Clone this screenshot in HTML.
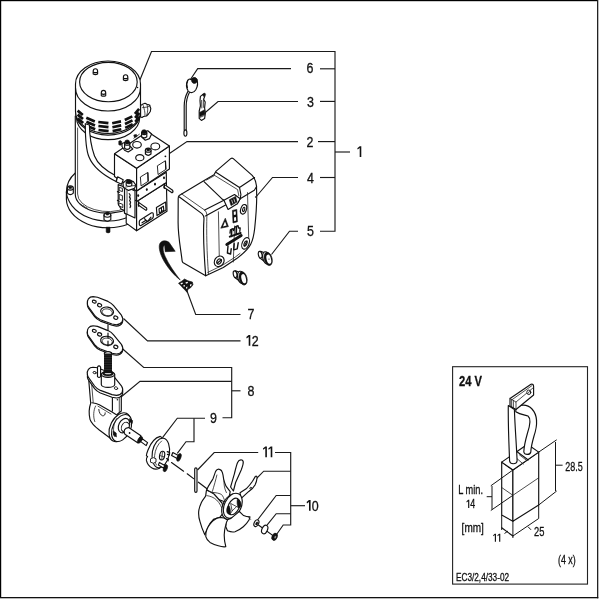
<!DOCTYPE html>
<html><head><meta charset="utf-8">
<style>
html,body{margin:0;padding:0;background:#fff;}
svg{display:block;will-change:transform;}
text{font-family:"Liberation Sans",sans-serif;fill:#111;stroke:#111;stroke-width:0.3;}
.l{fill:none;stroke:#1a1a1a;stroke-width:1.15;}
.t{fill:none;stroke:#151515;stroke-width:1;}
.p{fill:#fff;stroke:#111;stroke-width:1.15;stroke-linejoin:round;stroke-linecap:round;}
.pt{fill:#fff;stroke:#111;stroke-width:0.9;stroke-linejoin:round;stroke-linecap:round;}
.n{fill:none;stroke:#111;stroke-width:1.15;stroke-linejoin:round;stroke-linecap:round;}
.nt{fill:none;stroke:#222;stroke-width:0.8;stroke-linejoin:round;stroke-linecap:round;}
.k{fill:#111;stroke:#111;stroke-width:0.6;stroke-linejoin:round;}
</style></head>
<body>
<svg width="600" height="600" viewBox="0 0 600 600">
<rect x="0" y="0" width="600" height="600" fill="#fff"/>
<!-- FRAME -->
<g id="frame">
<rect x="0" y="0" width="598" height="1.2" fill="#000"/>
<rect x="0" y="0" width="1.2" height="598" fill="#000"/>
<rect x="597" y="0" width="1.3" height="598.3" fill="#222"/>
<rect x="0" y="597" width="598.3" height="1.3" fill="#111"/>
</g>
<!-- LEADERS -->
<g id="leaders" class="l">
<path d="M139.5 81 L151.5 51.5 H335 V231.2 H320"/>
<path d="M190.4 79.5 L197.7 68.6 H291"/><path d="M320 68.8 H335"/>
<path d="M205 112.8 L218 101.5 H298"/><path d="M320 101.4 H335"/>
<path d="M166.5 155.5 L187 141.6 H298"/><path d="M318 141.6 H335"/>
<path d="M335 152 H350"/>
<path d="M255.5 197.5 L272.5 177.5 H298"/><path d="M320 177.5 H335"/>
<path d="M271.5 254.5 L289.5 231.2 H298"/>
<path d="M187 291 L195.7 314.5 H240.5"/>
<path d="M123.5 318.5 L147.5 340.8 H240.5"/>
<path d="M122.5 348.8 L143.7 367.5 H231.7 V417.7 H222.5"/>
<path d="M118 399.5 L140 381.3 H231.7"/>
<path d="M231.7 390.8 H240.5"/>
<path d="M162.7 437.3 L177.3 418.2 H205"/>
<path d="M194 418.2 V441.7 H186 L177.3 453.3"/>
<path d="M197.5 470 L214.2 452.5 H258.2"/>
<path d="M275 452.5 H290.7 V525 H283.2 L276.2 535"/>
<path d="M255 480 L263.7 471.2 H290.7"/>
<path d="M257.5 520 L276.2 495.5 H290.7"/>
<path d="M266.2 526.2 L276.2 513.7 H290.7"/>
<path d="M290.7 505.7 H305"/>
</g>
<!-- LABELS -->
<defs><path id="one" d="M0.7 -8.7 L3.1 -10.7 H4.7 V0 H3.1 V-8.9 L1.1 -7.4 Z" fill="#111"/></defs>
<g id="labels" font-size="15" text-anchor="middle">
<text transform="translate(310 72.9) scale(0.83 1)">6</text>
<text transform="translate(310.5 106.9) scale(0.83 1)">3</text>
<text transform="translate(310 146.5) scale(0.83 1)">2</text>
<use href="#one" x="356.6" y="156.9"/>
<text transform="translate(310.5 182.5) scale(0.83 1)">4</text>
<text transform="translate(310.5 236.2) scale(0.83 1)">5</text>
<text transform="translate(251 319) scale(0.83 1)">7</text>
<use href="#one" x="245.6" y="345.8"/><text transform="translate(255.2 345.8) scale(0.83 1)">2</text>
<text transform="translate(251 395.8) scale(0.83 1)">8</text>
<text transform="translate(213.5 422.5) scale(0.83 1)">9</text>
<use href="#one" x="262.2" y="457.2"/><use href="#one" x="267.6" y="457.2"/>
<use href="#one" x="305.9" y="510.8"/><text transform="translate(315.3 510.8) scale(0.83 1)">0</text>
</g>
<!-- INSET -->
<g id="inset">
<rect x="452.6" y="366.7" width="134.9" height="217.4" fill="none" stroke="#222" stroke-width="1.1"/>
<text transform="translate(459 385.8) scale(0.80 1)" font-size="14" font-weight="bold">24 V</text>
<text transform="translate(458.2 493.5) scale(0.71 1)" font-size="13">L min.</text>
<use href="#one" transform="translate(465.9 508.1) scale(0.72 0.77)"/><text transform="translate(470.3 508.1) scale(0.74 1)" font-size="12">4</text>
<text transform="translate(461.6 532.2) scale(0.77 1)" font-size="13">[mm]</text>
<use href="#one" transform="translate(492.6 541.7) scale(0.72 0.75)"/><use href="#one" transform="translate(496.9 541.7) scale(0.72 0.75)"/>
<text transform="translate(534 536.4) scale(0.78 1)" font-size="12">25</text>
<text transform="translate(565.3 470.7) scale(0.72 1)" font-size="12.5">28.5</text>
<text transform="translate(558 563.7) scale(0.74 1)" font-size="12">(4 x)</text>
<text transform="translate(456 581) scale(0.785 1)" font-size="10.5">EC3/2,4/33-02</text>
</g>
<g id="brush">
<!-- block faces -->
<path class="p" d="M501.7 462.1 L512.9 470 L512.9 521.3 L501.7 515 Z"/>
<path class="p" d="M512.9 470 L538.7 452.1 L538.7 505 L512.9 521.3 Z"/>
<path class="p" d="M501.7 462.1 L527.5 444.2 L538.7 452.1 L512.9 470 Z"/>
<path class="n" stroke-width="1.8" d="M517.1 451.7 L528.3 460"/>
<path class="nt" d="M519.4 454.8 L526.5 460.3 M517.1 458.7 L523.2 464"/>
<!-- wear lines -->
<path class="nt" d="M501.7 487.5 L512.9 495.3 L538.7 477.8"/>
<!-- L min dim -->
<path class="t" d="M512.9 470 L490.8 485.8 M512.9 495.3 L490.8 510.5 M492 486 V509.5 M486.7 496.7 H492"/>
<!-- 28.5 dim -->
<path class="t" d="M538.7 452.1 L556.7 439.8 M538.7 505 L556.7 491 M555.5 442 V491 M555.5 465.2 H562.6"/>
<!-- bottom dims -->
<path class="t" d="M501.7 515 V530 M512.9 521.3 V538 M538.7 505 V518.5"/>
<path class="n" stroke-width="1.8" d="M501.7 527.8 L512.9 536"/>
<path class="t" d="M512.9 536 L538.7 518.5 M504.5 533.5 L508 531 M528 526.7 L531 529.8"/>
<!-- wire 2 (right, behind) -->
<path class="p" d="M515.8 409 C519 404 527 403.5 532 409 C537.5 415 538 424 534 436 C532 443 531 447 530.8 452 C530 455.2 524.5 455.2 523.8 452 C524 446 525.5 440 527.5 433 C530.5 424 530.5 418 528 416 C524 414.8 520 414.5 515.8 411.7 Z"/>
<!-- tag -->
<path class="p" d="M510 398.5 L531 384.3 Q533.6 383.6 533.6 386.5 L533.6 395 L516 409.5 L510 406 Z"/>
<path class="nt" d="M511.6 399.6 L511.6 407 M513.4 400.6 L513.4 408 M510 398.5 L516 402 L516 409.5 M516 402 L533.4 387.6 M512 399.7 L532 385.6"/>
<ellipse class="pt" cx="528.8" cy="392.3" rx="2" ry="2.3"/>
<path class="nt" d="M527.8 393.6 L529.8 391"/>
<!-- wire 1 (left, front) -->
<path class="p" d="M508.3 405.5 C508 425 509 445 509.6 461 C510.2 464.6 516.5 464.6 517.1 461 C516.5 445 515 428 514.4 409.5 Z"/>
</g>
<g id="motor">
<!-- flange -->
<path d="M75.3 173 C69.5 178 66.4 185 66.4 192 V199.5 A41.6 29 0 0 0 128 224.2 V150 H75.3 Z" fill="#fff"/><path class="n" d="M75.3 173 C69.5 178 66.4 185 66.4 192 V199.5 A41.6 29 0 0 0 128 224.2"/>
<path class="n" d="M66.4 192 A41.6 31 0 0 0 128 217.2"/>
<!-- stud bottom -->
<path class="k" d="M106.2 227.2 H110 V232.2 Q108.1 233.6 106.2 232.2 Z"/>
<!-- body -->
<path d="M75.3 116 V194.6 A32.7 18.6 0 0 0 128 209.3 H140 V116 Z" fill="#fff"/><path class="n" d="M75.3 116 V194.6 A32.7 18.6 0 0 0 128 209.3"/>
<path class="nt" d="M77.6 128 V194 A30.6 17.4 0 0 0 126 208.2"/>
<path class="nt" d="M80.5 203.8 L83 206.4 M83.3 205.6 L85.6 207.8 M86 207.2 L87.6 208.8"/>
<!-- left bolt -->
<g id="boltL">
<path class="p" d="M67.4 188 V193.2 Q70.3 196 73.3 193.2 V188 Z"/>
<ellipse class="p" cx="70.3" cy="188" rx="3" ry="2.1"/>
<ellipse class="k" cx="70.3" cy="187.6" rx="1.6" ry="1.1"/>
</g>
<!-- bottom bolt -->
<g id="boltB">
<path class="p" d="M104 215 V219.6 Q107.4 222.6 110.8 219.6 V215 Z"/>
<ellipse class="p" cx="107.4" cy="215" rx="3.4" ry="2.2"/>
<ellipse class="k" cx="107.4" cy="213.6" rx="1.8" ry="1.5"/>
</g>
<!-- cap bottom lips -->
<path class="p" d="M76.5 112 V117.6 A31.6 22 0 0 0 139.7 117.6 V112 Z"/>
<path class="p" d="M75.8 110 V114.3 A32.3 22 0 0 0 140.3 114.3 V110 Z"/>
<!-- cap -->
<path class="p" d="M75.5 84 V111.5 A32.5 22 0 0 0 140.5 111.5 V84 A32.5 23 0 0 0 75.5 84 Z"/>
<path class="n" d="M75.5 88 A32.5 23 0 0 0 140.5 88"/>
<ellipse class="p" cx="108.4" cy="82" rx="28.8" ry="19.7"/>
<!-- top bolts -->
<g transform="translate(95.4 71.7)"><path class="p" stroke-width="1.5" d="M-2.2 2.4 V-0.6 Q-2.2 -3 0 -3 Q2.2 -3 2.2 -0.6 V2.4 Q0 3.4 -2.2 2.4 Z"/><path class="n" stroke-width="1.1" d="M-2 0.5 Q0 1.5 2 0.5"/></g>
<g transform="translate(125.6 77.7)"><path class="p" stroke-width="1.5" d="M-2.2 2.4 V-0.6 Q-2.2 -3 0 -3 Q2.2 -3 2.2 -0.6 V2.4 Q0 3.4 -2.2 2.4 Z"/><path class="n" stroke-width="1.1" d="M-2 0.5 Q0 1.5 2 0.5"/></g>
<g transform="translate(103.5 93.3)"><path class="p" stroke-width="1.5" d="M-2.2 2.4 V-0.6 Q-2.2 -3 0 -3 Q2.2 -3 2.2 -0.6 V2.4 Q0 3.4 -2.2 2.4 Z"/><path class="n" stroke-width="1.1" d="M-2 0.5 Q0 1.5 2 0.5"/></g>
<circle cx="137.5" cy="87.5" r="0.8" fill="#111"/>
<!-- vents -->
<g id="vents" stroke="#111" stroke-width="2.7" fill="none">
<path d="M77.6 110.6 L82.8 115 M77.6 114.6 L83 119 M77.8 118.6 L83.2 123"/>
<path d="M86.3 117.8 L94.8 121.6 M86.4 121.8 L95 125.5 M86.6 125.7 L95.2 129.3"/>
<path d="M98.3 122 L108.4 123.2 M98.4 126 L108.5 127.2 M98.5 130 L108.6 131.1"/>
<path d="M112.2 123.2 L121 121.4 M112.4 127.2 L121.2 125.4 M112.6 131.1 L121.3 129.3"/>
<path d="M124.8 120 L132.3 116.4 M125 124 L132.5 120.4 M125.2 127.9 L132.7 124.3"/>
<path d="M134.9 113.8 L139.1 108.8 M135.1 117.8 L139.3 112.8 M135.3 121.8 L139.4 116.8"/>
</g>
<!-- cable gland -->
<g id="gland">
<path class="p" d="M140.6 105.6 L142.5 104.2 L145 103.2 L147 104.2 L149.5 105 L150.8 108.5 L150.3 111.5 L148.5 114 L146.5 116 L143.5 116.5 L142 117.5 L140.6 117 Z"/>
<path class="nt" d="M143.2 105.5 C144.2 109 145.2 112 145 115.6 M147 104.6 C148.2 108 148 111.6 146.6 115.6 M142.6 107.6 L147.4 107 L150 105.6"/>
</g>
<!-- cable -->
<path class="p" d="M85.3 123.7 C85.3 140 86 150 89 157 C93 167 103 175 116 181.5 L117.5 176.8 C106 171 97.5 164 94.5 156 C92 149 89.6 140 89.4 125 Z"/>
</g>
<g id="valve">
<!-- lower left block -->
<path class="p" d="M124.5 205 L124.5 213 L126.2 214.2 V223.1 L136.6 230.7 V200 Z"/>
<!-- lower section right face -->
<path class="p" d="M136.6 201.6 L166.4 182.4 L167 211.2 L136.6 230.7 Z"/>
<!-- middle band -->
<path class="p" d="M136.6 191.1 L166.3 172.2 L166.4 182.4 L136.6 201.6 Z"/>
<g fill="#111"><ellipse cx="138.2" cy="195.6" rx="1" ry="1.4"/><ellipse cx="146.8" cy="189.6" rx="1" ry="1.4"/><ellipse cx="155" cy="184.2" rx="1" ry="1.4"/><ellipse cx="164" cy="177.8" rx="1" ry="1.4"/></g>
<!-- pins -->
<path class="p" d="M164.6 184.6 L172.6 190.2 Q173.6 191.8 172 192.8 L163.8 187.2 Z"/>
<path class="p" d="M139 202.6 L146.6 208 Q147.4 209.6 146 210.4 L138.2 205 Z"/>
<path class="n" stroke-width="1.6" d="M164.3 183.6 V188.4 M138.6 201.6 V206.2"/>
<!-- sockets -->
<path class="p" stroke-width="2.1" d="M140.2 220 L151.6 212.8 Q153.3 212.4 153.3 214.2 V216.6 Q153.2 218 152 218.8 L141 225.6 Q139.3 226 139.3 224 V221.6 Q139.4 220.6 140.2 220 Z"/>
<path class="n" stroke-width="1.3" d="M142 222.8 L146 220.2 L147.5 221.6 L151 217.2 M144.5 218.6 L146.5 221.2"/>
<path class="p" stroke-width="2.1" d="M156.4 207.6 L165.6 202 L166 210 L157 215.6 Z"/>
<path class="n" stroke-width="1.2" d="M159 209 L159.4 213 M159 209 L163.4 206.2 L163.8 210.2 L159.4 213 M161.4 207.8 L161.6 211.4"/>
<!-- upper block -->
<path class="p" d="M114.5 153.7 L136.6 168.3 V191.1 L114.5 176.5 Z"/>
<path class="p" d="M136.6 168.3 L169.4 146.1 V169 L136.6 191.1 Z"/>
<path class="p" d="M114.5 153.7 L147.4 131.5 L169.4 146.1 L136.6 168.3 Z"/>
<!-- windows -->
<path class="pt" d="M140.7 176.8 L147.7 172.5 L148.1 181.3 L141.4 185.7 Z"/>
<path class="n" stroke-width="1.7" d="M147.9 172.8 L148.2 181"/>
<path class="pt" d="M157.7 165.6 L165.3 160.8 L165.8 169.4 L158.4 174.3 Z"/>
<path class="n" stroke-width="1.7" d="M165.5 161.2 L165.9 169"/>
<circle cx="165.4" cy="156.3" r="0.9" fill="#111"/>
<!-- top circles -->
<ellipse class="p" stroke-width="1.5" cx="137" cy="144.8" rx="4.3" ry="3.3"/>
<ellipse class="p" stroke-width="1.5" cx="155.3" cy="146.4" rx="4.4" ry="3.4"/>
<ellipse class="p" stroke-width="1.5" cx="139.8" cy="157.7" rx="4.1" ry="3.1"/>
<path class="p" stroke-width="1.4" d="M145.4 150.2 V154 Q148.2 156.6 151 154 V150.2 Z"/>
<ellipse class="p" stroke-width="1.4" cx="148.2" cy="150.2" rx="2.8" ry="2.1"/>
<ellipse class="k" cx="148.2" cy="149.8" rx="1.6" ry="1.2"/>
<!-- terminal T1 -->
<g id="T1">
<path class="p" d="M122 143.6 L125.8 141.9 L132.8 149 L128.2 151.9 L124.5 150.2 L122 146.5 Z"/>
<path class="k" d="M118.8 141.4 Q120.2 139.8 121.6 141.4 V144.6 Q120.2 146 118.8 144.6 Z"/>
<path class="p" d="M124.6 143.4 V148.2 Q127.2 150.4 129.8 148.2 V143.4 Z"/>
<ellipse class="p" cx="127.2" cy="143.4" rx="2.6" ry="1.8"/>
<path class="k" d="M125.3 140.6 Q127.2 139.2 129.1 140.6 V143.4 Q127.2 144.8 125.3 143.4 Z"/>
</g>
<!-- terminal T2 -->
<g id="T2">
<path class="p" d="M141.6 133.2 L147.8 130.7 L151.6 134 L149.5 138.6 L145.3 140.2 L142 137.3 Z"/>
<path class="k" d="M133.8 135 L136.4 134.4 L137 136.6 L134.4 137.4 Z"/>
<path class="p" d="M141.6 132.8 V136.8 Q144.2 139 146.8 136.8 V132.8 Z"/>
<ellipse class="p" cx="144.2" cy="132.8" rx="2.6" ry="1.8"/>
<path class="k" d="M142 130.4 Q144.1 128.9 146.2 130.4 V133.2 Q144.1 134.7 142 133.2 Z"/>
<path class="nt" d="M133.8 138.2 L139.4 134.2"/>
</g>
<!-- left side assembly -->
<g id="side">
<path class="p" d="M124.5 186 L135 191 V218 L124.5 213 Z"/>
<path class="nt" d="M127 188 V214"/>
<path class="n" stroke-width="2.2" d="M129.2 193.6 q1.8 1.6 0.2 3.4 q1.8 1.8 0.2 3.6 q1.8 1.8 0.2 3.6 q1.6 1.8 0.2 3.4"/>
<path class="p" d="M118.2 184.6 L124.5 187 V210.6 L121 209 L118.2 204 Z"/>
<path class="pt" stroke-width="1.1" d="M119.6 187.4 L122.4 188.4 V191.6 L119.6 190.6 Z M119.6 194.6 L122.4 195.6 V200.4 L119.6 199.4 Z M119.2 203 L122.8 204.4 V207.6 L119.2 206 Z"/>
<path class="n" stroke-width="1.5" d="M117.4 191.6 L119.4 192.4 M117.4 200.4 L119.4 201.2"/>
<!-- ferrule -->
<path class="p" d="M117.6 176.8 L123.2 179.8 L121.6 184.2 L116.2 181.8 Z"/>
<!-- bracket + bolt -->
<path class="p" d="M123 183 L127 179.6 L133.4 181.6 L135.8 185 L134.6 188.2 L128.6 190.4 L123.4 187.6 Z"/>
<path class="nt" d="M123.4 187.6 L128.8 186.4 L135.4 185.4"/>
<path class="p" d="M126.2 182.4 V185.4 Q129 187.4 131.8 185.4 V182.4 Z"/>
<path class="k" d="M126.4 180.4 Q129 178.6 131.6 180.4 V183 Q129 184.8 126.4 183 Z"/>
</g>
</g>
<g id="cover">
<path class="p" d="M179.2 195.4 L203.3 181 L214 174.7 L216.1 171.1 L231 158.4 Q232 157.8 233 158.4 L252.2 175.4 Q255.6 179 256.5 186 L256.7 196 Q256.8 208 254.7 228.3 Q253.5 239 250.7 244.3 Q248 250 236.7 258.6 L223.3 267.6 L205.7 275.8 L182.8 262.4 Q182.3 261.8 182.1 260.6 C180.6 248 178 236 178.1 222 L178.2 199.5 Q178 196.5 179.2 195.4 Z"/>
<!-- left-front top edge bevel -->
<path class="n" d="M179 196.8 L201.9 213.6 Q203.9 215.4 204 218.4 C203 232 203.6 250 205.7 275.6"/>
<path class="nt" d="M181.4 193.8 L204.7 210.1 Q206.6 211.6 206.9 214.8 C206.4 232 206.8 252 208.5 274.4"/>
<!-- front top edge -->
<path class="n" d="M205.5 215.9 L227.4 203.9"/>
<path class="n" d="M204.7 210.1 L223.9 200.2"/>
<!-- raised part -->
<path class="n" d="M216.3 172.6 L239.5 187.4 L254.5 177.6 M239.5 187.4 L240.9 194.5 L240.2 198.7"/>
<path class="nt" d="M214.6 175.4 L237.6 189.6 L238.8 195.6"/>
<!-- step lines on lower level -->
<path class="n" d="M204 181.7 L221.7 198.7 L223.9 200.2"/>
<path class="nt" d="M206.6 180 L214.4 175.6"/>
<!-- after latch edge -->
<path class="n" d="M237.3 203.7 L240.2 198.7 L254.3 190.2 L256.5 186.7"/>
<!-- latch -->
<path class="p" d="M223.9 200.2 L234.5 194.5 L240.2 198.7 L237.3 203.7 L228.1 209.4 Z"/>
<path class="k" d="M229.3 199.8 L235.6 196.4 L237 202 L231 205.6 Z"/>
<path d="M231.6 199.8 L232.8 203.6 M233.8 198.6 L235 202.4" stroke="#fff" stroke-width="0.7" fill="none"/>
<!-- panel lines -->
<path class="nt" d="M218.4 211.8 L219.3 257.7 M247.5 192.6 L248.7 237.7 Q248.6 243 246.8 247.4 M234.6 226 L233.3 262"/>
<path class="nt" d="M240 253.4 L235.6 256.8 L222.6 265.2 L207.8 272.4"/>
<circle cx="255.6" cy="197" r="0.7" fill="#111"/>
<!-- screws -->
<g id="scr">
<ellipse class="p" stroke-width="2.2" cx="243.6" cy="209.3" rx="2.8" ry="4.9" transform="rotate(18 243.6 209.3)"/>
<ellipse class="n" stroke-width="1" cx="243.7" cy="209.4" rx="1" ry="2.2" transform="rotate(18 243.6 209.3)"/>
<ellipse class="p" stroke-width="2.6" cx="245.6" cy="243.4" rx="3.4" ry="6" transform="rotate(22 245.6 243.4)"/>
<ellipse class="n" stroke-width="1.3" cx="245.6" cy="243.6" rx="1.3" ry="2.7" transform="rotate(22 245.6 243.4)"/>
<path class="n" stroke-width="1.3" d="M244.4 246 L247 241"/>
<ellipse class="p" stroke-width="2.5" cx="219.2" cy="261.3" rx="4.6" ry="5.6" transform="rotate(35 219.2 261.3)"/>
<ellipse class="n" stroke-width="1.3" cx="219.2" cy="261.5" rx="2" ry="2.7" transform="rotate(35 219.2 261.3)"/>
<path class="n" stroke-width="1.3" d="M217.2 263.2 L221.4 259.6"/>
</g>
<!-- icons -->
<path class="k" stroke-width="1.2" d="M225.3 218.2 L228.4 226.6 L220.8 228.2 Z"/><path d="M225 221.6 L226.6 225.6 L223 226.4 Z" fill="#fff"/>
<path class="k" d="M232.4 210.4 L236.8 209.4 L237.4 221.8 L233 223 Z"/><path d="M233.7 211.8 L235.7 211.3 L235.9 214.6 L233.9 215.1 Z M234 217.4 L236 216.9 L236.2 220.6 L234.2 221.2 Z" fill="#fff"/>
<g id="ico" stroke="#111" fill="none" stroke-linecap="round" stroke-linejoin="round">
<path stroke-width="2.9" d="M226.8 244.4 L241.2 235.6"/>
<path stroke-width="2" d="M229.8 236.6 L240.6 233"/>
<path stroke-width="1.7" d="M231.6 229.6 L231.4 236.4 M236.4 226.6 L236.2 234.4"/>
<path stroke-width="1.3" d="M230 233 L230.4 229.8 L233 228.6 L233.6 230.6 L235 227 L238 225.6 L238.6 228 L240.2 228 L239.8 231.4"/>
<path stroke-width="1.4" d="M228 246 L227.4 253 L230.6 254 L231.2 248.8 M234.2 243.8 L233.7 249.8 L237.2 248.8 L238.2 242.8"/>
</g>
</g>
</g>
<g id="arrow">
<path class="k" stroke-width="0.4" d="M180.2 280 C174 272 168.5 264 165.2 256.5 C162.6 250.5 162.6 246.5 164.6 245 L165.2 251.7 L175.2 251.3 L169 242.3 C165 239.6 160 240.6 159.3 245.5 C158.8 250 161 256 164.5 262 C168.5 268.8 174.5 275.6 180.2 280 Z"/>
</g>
<g id="clip7">
<path class="k" d="M178.5 283.2 L182 281 L184.5 279 L188 280.8 L192.4 282 L193 284.8 L190.6 287.8 L188 289.2 L187 292.2 L184.4 289.6 L181.6 286.6 L180 284.8 Z"/>
<path d="M180.4 283.2 L182.4 282.4 L183 283.6 L181.2 284.4 Z M185.4 282.4 L187.6 281.8 L188 283 L186 283.8 Z M190 284.6 L191.6 284 L191.4 285.6 L190 286.4 Z M186 287.2 L187.4 286.6 L187.2 288.4 L186.2 288.8 Z M183.2 285.4 L184.6 285 L185.2 286.2 L183.8 286.8 Z" fill="#fff"/>
</g>
<g id="plugs">
<path class="p" d="M260.6 251.4 L266.0 253.3 L265.6 262.3 L259.9 258.0 Z"/>
<ellipse class="p" cx="260.2" cy="254.7" rx="1.8" ry="3.4" transform="rotate(-12 260.2 254.7)"/>
<ellipse class="p" cx="266.3" cy="257.9" rx="3.5" ry="6.3" transform="rotate(-14 266.3 257.9)"/>
<ellipse class="k" cx="268.2" cy="258.9" rx="3.9" ry="6.8" transform="rotate(-14 268.2 258.9)"/>
<ellipse cx="268.8" cy="259.2" rx="2.2" ry="4.7" fill="#fff" transform="rotate(-14 268.8 259.2)"/>
<circle cx="269.0" cy="259.1" r="0.6" fill="#111"/>
<path class="p" d="M235.5 270.9 L240.9 272.8 L240.5 281.8 L234.8 277.5 Z"/>
<ellipse class="p" cx="235.1" cy="274.2" rx="1.8" ry="3.4" transform="rotate(-12 235.1 274.2)"/>
<ellipse class="p" cx="241.2" cy="277.4" rx="3.5" ry="6.3" transform="rotate(-14 241.2 277.4)"/>
<ellipse class="k" cx="243.1" cy="278.4" rx="3.9" ry="6.8" transform="rotate(-14 243.1 278.4)"/>
<ellipse cx="243.7" cy="278.7" rx="2.2" ry="4.7" fill="#fff" transform="rotate(-14 243.7 278.7)"/>
</g>
<g id="item6">
<path class="p" stroke-width="1.6" d="M187.4 81 C186 84 186.4 88 188.2 91 C190.2 93.6 194 92.8 195.8 89.8 C197.6 86.6 197.8 82 196.8 79.6 C195.4 77 192.6 78 191 79.6 C189.6 78.6 188.2 79.4 187.4 81 Z"/>
<path class="k" d="M191.4 79.2 C193 77 196.2 76.8 197.2 79.6 C197.8 82 196.2 83.8 193.8 83.4 C192.2 83 191.2 81.4 191.4 79.2 Z"/>
<path class="n" stroke-width="2" d="M187.8 80.4 C186.6 82.6 186.6 85.4 187.4 87.6"/>
<path class="n" stroke-width="0.75" d="M187.8 91.6 C185.4 96 184.2 101 184.2 106 V130 M189.4 92.4 C187 97 186.2 101 186.2 106 V130"/>
<ellipse class="p" stroke-width="1.3" cx="185.4" cy="133" rx="1.5" ry="3.2"/>
</g>
<g id="item3">
<path class="p" stroke-width="1.1" d="M200.4 96.4 L203.6 94 L205 95.6 L203.6 99.2 L205.2 102 L204.6 108 L205.4 113 L204.6 118.6 L201.4 120.4 L199.2 118.4 L199.2 111 L200.4 106 L200 100.6 Z"/>
<path class="k" d="M202.4 94.4 L204.8 93 L205.6 94.6 L203.8 96.6 Z M199.6 112.4 L204.6 109.8 L205 114.2 L200 116.6 Z"/>
<path class="nt" d="M201.6 100.4 L201.8 108 M203.4 100 L203.4 107.4 M200 117.4 L204.4 115.4"/>
</g>
<defs>
<g id="gsk">
<path class="p" transform="translate(0 1.3)" d="M87.4 304 C86.6 300 89 296.6 93 296.6 L97.5 297.2 L108 301.4 Q111.5 303 113.6 305.6 L121.4 315.2 Q123.6 318.6 122.2 321.6 Q120.6 324.6 116.4 324.8 L112 324 L100.4 319.8 Q96.6 318 94.6 315.4 L88.6 307 Q87.6 305.6 87.4 304 Z"/>
<path class="p" d="M87.4 304 C86.6 300 89 296.6 93 296.6 L97.5 297.2 L108 301.4 Q111.5 303 113.6 305.6 L121.4 315.2 Q123.6 318.6 122.2 321.6 Q120.6 324.6 116.4 324.8 L112 324 L100.4 319.8 Q96.6 318 94.6 315.4 L88.6 307 Q87.6 305.6 87.4 304 Z"/>
<ellipse class="p" cx="94.3" cy="301.7" rx="2" ry="1.4" transform="rotate(15 94.3 301.7)"/>
<ellipse class="p" cx="99.6" cy="305.2" rx="2.1" ry="1.6" transform="rotate(20 99.6 305.2)"/>
<ellipse class="p" cx="115.8" cy="317.7" rx="2.1" ry="1.6" transform="rotate(20 115.8 317.7)"/>
<ellipse class="p" stroke-width="1.3" cx="107.1" cy="311.6" rx="6.5" ry="4.5" transform="rotate(10 107.1 311.6)"/>
<ellipse class="nt" cx="107.3" cy="312.3" rx="5.2" ry="3.4" transform="rotate(10 107.3 312.3)"/>
</g>
</defs>
<g id="gaskets">
<use href="#gsk"/>
<use href="#gsk" transform="translate(0 29.2)"/>
<path class="n" stroke-width="1.1" stroke-dasharray="5 3.2" stroke-linecap="butt" d="M108 324.8 V346"/>
</g>
<g id="pump">
<!-- elbow body -->
<path class="p" d="M88.4 376 L90.7 403.3 C89 408 89 415 90 419.3 C91 422.6 95 426.6 99.3 430 L110 438 L116 441.6 L124 420 L116.7 414.7 L121.3 411 V389 L100 380 Z"/>
<path class="n" d="M92 402.7 C95 403 97.6 403.8 99.3 404.7 L112 412 L116 414.4"/><path class="nt" d="M98 406.2 L111 414"/>
<path class="nt" d="M95.6 406 C93.4 410 93 417 94.8 421.6 M91.4 381 L93.2 402.4"/>
<path class="n" d="M112.4 393.3 V411"/><path class="nt" d="M119.3 392 V413"/>
<path class="pt" d="M98.8 409.4 C99 412.6 100.6 415.2 102.6 415.8 C104.4 416 105.4 414.6 105.2 412.8"/>
<circle cx="117.4" cy="399.8" r="0.8" fill="#111"/>
<!-- end disk -->
<ellipse class="p" cx="119.8" cy="427.2" rx="9.4" ry="15.4" transform="rotate(26 119.8 427.2)"/>
<ellipse class="p" cx="121.6" cy="428" rx="8.8" ry="14.4" transform="rotate(26 121.6 428)"/>
<path class="nt" d="M116.6 418.6 C113.6 423 112.6 430 114.4 436.4"/>
<ellipse class="p" cx="124" cy="425.6" rx="5.2" ry="7.6" transform="rotate(26 124 425.6)"/>
<ellipse class="pt" cx="125.2" cy="427" rx="3.6" ry="5" transform="rotate(26 125.2 427)"/>
<path class="k" d="M129.6 418.6 L132.6 420.6 L132.2 423.4 L129.4 421.6 Z M113.2 431 L116.2 433 L116.4 437 L113.4 435 Z"/>
<!-- shaft -->
<path class="p" d="M128.7 427.6 L140.9 435.8 L138 442.9 L124.9 434.2 C123 431.6 124.6 427.4 128.7 427.6 Z"/>
<path class="p" d="M141.6 438.2 L147.6 442.6 L146.2 445.6 L140.4 441.4 Z"/>
<ellipse class="k" cx="140" cy="439.8" rx="1.9" ry="3.7" transform="rotate(30 140 439.8)"/>
<circle cx="129.6" cy="433" r="0.9" fill="#111"/>
<!-- top flange (gasket-like) -->
<g transform="translate(0 70.6)">
<path class="p" transform="translate(0 2.6)" d="M87.4 304 C86.6 300 89 296.6 93 296.6 L97.5 297.2 L108 301.4 Q111.5 303 113.6 305.6 L121.4 315.2 Q123.6 318.6 122.2 321.6 Q120.6 324.6 116.4 324.8 L112 324 L100.4 319.8 Q96.6 318 94.6 315.4 L88.6 307 Q87.6 305.6 87.4 304 Z"/>
<path class="p" d="M87.4 304 C86.6 300 89 296.6 93 296.6 L97.5 297.2 L108 301.4 Q111.5 303 113.6 305.6 L121.4 315.2 Q123.6 318.6 122.2 321.6 Q120.6 324.6 116.4 324.8 L112 324 L100.4 319.8 Q96.6 318 94.6 315.4 L88.6 307 Q87.6 305.6 87.4 304 Z"/>
<ellipse class="pt" cx="94.6" cy="302" rx="1.6" ry="1.1" transform="rotate(15 94.6 302)"/>
<ellipse class="pt" cx="116" cy="317.6" rx="1.7" ry="1.3" transform="rotate(20 116 317.6)"/>
</g>
<!-- boss -->
<path class="p" d="M101.3 374.5 V384.4 A6.7 3 0 0 0 114.7 384.4 V374.5 Z"/>
<ellipse class="p" cx="108" cy="374.3" rx="6.7" ry="3"/>
<ellipse class="k" cx="108" cy="373.4" rx="5.6" ry="2.6"/>
<ellipse cx="108" cy="373" rx="3.4" ry="1.3" fill="#fff"/>
<!-- bolt thread -->
<rect x="104" y="352.6" width="8" height="20.6" fill="#111"/>
<path d="M104 355 H112 M104 357.4 H112 M104 359.8 H112 M104 362.2 H112 M104 364.6 H112 M104 367 H112 M104 369.4 H112" stroke="#555" stroke-width="0.4"/>
<path class="p" d="M104.4 352.8 Q108 350.4 111.6 352.8 V354 H104.4 Z"/>
<!-- small pin -->
<path class="p" d="M97.5 367 Q99 364.6 100.6 367 V376.6 Q99 378 97.5 376.6 Z"/>
</g>
<g id="coupling">
<path class="p" d="M160.2 436.4 C155.4 437.6 150.6 443.4 148 450 C146.6 453.4 146.4 455.6 146.4 455.8 L147.6 456.4 C146.4 458 146.2 459.4 146.4 460.4 C147 463 149 466.4 152 468 C154 469.2 157 469.4 159.4 468.2 L165 464 L169 452 L164 439 Z"/>
<ellipse class="p" cx="160.8" cy="453" rx="8.5" ry="15" transform="rotate(10 160.8 453)"/>
<path class="nt" d="M161.6 441 C157.6 444.2 155.2 449.6 154.6 455.6 C154.4 459.6 155 462.6 156.4 465"/>
<ellipse class="p" cx="162.1" cy="455.6" rx="2.5" ry="4.4" transform="rotate(12 162.1 455.6)"/>
<path class="nt" d="M160 455.6 L164.4 457 M162.4 451.8 L161.8 459.6"/>
<path class="pt" d="M150.8 458.6 Q153.4 456.4 156 458.8 V462 Q153.6 464.4 150.8 462.4 Z"/>
<path class="n" d="M167.2 451.6 L169.6 452.4 L169.4 455 L167.4 454.4 M166.6 458.6 L168.4 459.4 L168 461"/>
<!-- screws -->
<path class="p" d="M172.8 452.6 L178.4 455.6 L177.2 458.6 L171.6 455.4 Z"/>
<ellipse class="k" cx="179" cy="457.4" rx="1.9" ry="4.1" transform="rotate(20 179 457.4)"/>
<path class="p" d="M159.4 462.4 L164.8 465.6 L163.8 468.2 L158.4 465 Z"/>
<ellipse class="k" cx="165.4" cy="468.2" rx="1.9" ry="3.7" transform="rotate(20 165.4 468.2)"/>
</g>
<path class="n" stroke-width="1.1" d="M171.5 462.5 L183.6 471.2 M187.2 473.8 L193.6 478.6 M198.4 482.2 L207 488.8"/>
<g id="fan">
<path class="p" stroke-width="0.9" d="M195.85 467.8 Q194.7 467.8 194.7 469 V491 Q194.7 492.4 195.85 492.4 Q197 492.4 197 491 V469 Q197 467.8 195.85 467.8 Z"/>
<!-- blade 2 -->
<path class="p" d="M230.6 487 C232 482 233.4 477 234.4 473.8 C235.6 469 236.4 465 237.6 462.4 C238.6 460.2 240.4 459.6 242 460 C243.4 460.6 243.5 462.4 243 464.4 C242.4 467 242 468 241.2 470 L235.6 482.5 L233.4 491 Z"/>
<!-- blade 3 -->
<path class="p" d="M240 492.8 L246.2 488.8 C249 486 251 483.4 252.5 481.2 L255.4 476.4 C256.4 475.6 257.2 476.6 257 478.2 C256.8 481 256 483 255 485 C253.6 487.6 251.6 489.6 248.8 491.4 L241.2 498.4 Z"/>
<ellipse class="nt" cx="250.6" cy="488.1" rx="1" ry="0.7" transform="rotate(-40 250.6 488.1)"/>
<!-- blade 1 -->
<path class="p" d="M206.8 489.6 C208 486 211 482.4 213 478.8 C214 476 214.8 473.4 215.6 471.4 C216.6 469.4 218.4 468.8 219.6 469.4 C221.2 470 222 471 222.4 472.6 C223.2 475 223.4 477.6 223.8 480 C224.4 482.6 225.2 484.4 226.2 486.4 L230.2 491.6 L228 503 L212 497 Z"/>
<path class="nt" d="M212.4 491.4 C214 486 216 479 216.9 475 M212.5 492.4 C216 492.6 220 493.4 221.6 494.6 C223 496 224 498.6 224.6 500.6 M224 481 C223.8 485 224.6 489 226.4 492.6"/>
<!-- blade 6 -->
<path class="p" d="M206.6 489.8 C206 492 206 494.4 205.6 496.2 C204 498.4 202.4 500.2 201.4 502.4 C200 505.4 199 508.4 198.7 511.4 C198.4 515 199 518.6 200 521.6 C201 525.4 202.6 530 204.8 534.8 L207.6 528 C209 525 211 521.6 213.4 519.4 L220 517.2 L224 512 L222 503 L214 494 Z"/>
<path class="nt" d="M206.8 495.6 C210 496 214 497.4 216.6 500 C219.6 503 222 507 222.8 511.6 M208 491 C210 491.6 212 492 213.6 493"/>
<!-- hub -->
<ellipse class="p" cx="231.4" cy="506.4" rx="8.6" ry="13.6" transform="rotate(25 231.4 506.4)"/>
<ellipse class="p" cx="232.8" cy="505.8" rx="8.4" ry="13.2" transform="rotate(25 232.8 505.8)"/>
<ellipse class="p" stroke-width="1.7" cx="233.8" cy="506.4" rx="5.4" ry="8.8" transform="rotate(25 233.8 506.4)"/>
<path class="k" d="M237.4 499 C239.6 499.6 241 502 241 504.4 C241 506.6 240 508.2 238.4 508 C237 505.4 236.8 501.8 237.4 499 Z M229 505.6 C227 506.4 226.4 509.6 226.8 511.8 C227.2 513.6 228.6 514.8 230.2 514.2 C230.8 511.2 230.2 508 229 505.6 Z"/>
<path class="nt" d="M231 503.6 L236.6 506.6 L232.4 510.6 Z M232.4 510.6 L230.6 513.4 M236.6 506.6 L238.2 507.2"/>
<!-- blade 4 -->
<path class="p" d="M239.4 511.4 C241 513 242.4 514.6 243.6 515.6 C245.6 516.6 247.6 516.9 250 516.9 L249 520 C247.4 522.6 245.4 525 243.3 526.7 C240.6 529 238 530.6 235 531.7 C232.4 532.4 229.6 531.6 227.5 530.8 L225.8 526.7 L226.4 520 L231 518.4 Z"/>
<path class="nt" d="M248.8 517.4 L250.6 519.4"/>
<!-- blade 5 -->
<path class="p" d="M213.3 520.6 C215.4 518.6 217.6 517.6 220 517.4 C222.6 517.4 225.4 518.4 227.6 520 C226.6 521.6 226 523.4 225.7 525.2 C224.8 528.6 224.2 531.8 224.2 535 C224.2 539 224.8 543 225.8 546.7 C223.4 547 220.8 546.6 218.3 545.8 C215.4 545 212.6 543.8 210 542.4 C207.8 540.8 206.4 538.8 205.8 536.6 C205.6 534.4 205.8 532.2 206.7 530 C207.6 527.6 208.8 525.6 210 524.2 C211 522.8 212 521.6 213.3 520.6 Z"/>
</g>
<g id="item10">
<path class="n" stroke-width="0.8" d="M258.4 525 L274.4 536.6"/>
<ellipse class="p" stroke-width="2" cx="256.4" cy="523.2" rx="2.2" ry="3.6" transform="rotate(25 256.4 523.2)"/>
<ellipse class="k" cx="256.8" cy="523.5" rx="0.9" ry="1.7" transform="rotate(25 256.8 523.5)"/>
<ellipse class="p" stroke-width="2.3" cx="264.7" cy="529.5" rx="2.7" ry="4.5" transform="rotate(25 264.7 529.5)"/>
<ellipse class="k" cx="274.6" cy="536.8" rx="2.6" ry="3.8" transform="rotate(25 274.6 536.8)"/>
<ellipse cx="275.3" cy="537.2" rx="0.9" ry="1.4" fill="#888" transform="rotate(25 275.3 537.2)"/>
</g>
<!--PARTS-->
</svg>
</body></html>
